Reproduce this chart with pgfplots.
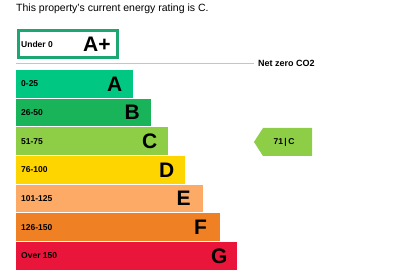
\documentclass[border=0pt]{standalone}
\usepackage{pgfplots}
\pgfplotsset{compat=1.18}
\usepackage{fontspec}
\setmainfont{Liberation Sans}
\definecolor{epcA}{HTML}{00C781}
\definecolor{epcB}{HTML}{19B459}
\definecolor{epcC}{HTML}{8DCE46}
\definecolor{epcD}{HTML}{FFD500}
\definecolor{epcE}{HTML}{FCAA65}
\definecolor{epcF}{HTML}{EF8023}
\definecolor{epcG}{HTML}{E9153B}
\definecolor{epcAplus}{HTML}{1BA672}
\definecolor{netzero}{HTML}{A9D0DA}
\tikzset{rng/.style={anchor=west,inner sep=0,font=\fontsize{8.5}{10}\selectfont\bfseries},
  big/.style={anchor=west,inner sep=0,font=\fontsize{21}{24}\selectfont\bfseries}}
\begin{document}
\begin{tikzpicture}
\begin{axis}[width=400pt,height=280pt,scale only axis,
  xmin=-16,xmax=384,ymin=0,ymax=280,y dir=reverse,
  axis lines=none,clip=false]
% picture frame (bounding box only)
\path (axis cs:-16,0) rectangle (axis cs:384,280);
% rating bars (length = right edge - left edge, in px)
\addplot[xbar,bar shift=0pt,bar width=27.7,draw=none,fill=epcA] coordinates {(117,83.85)};
\addplot[xbar,bar shift=0pt,bar width=27.7,draw=none,fill=epcB] coordinates {(134.5,112.55)};
\addplot[xbar,bar shift=0pt,bar width=27.7,draw=none,fill=epcC] coordinates {(152,141.25)};
\addplot[xbar,bar shift=0pt,bar width=27.7,draw=none,fill=epcD] coordinates {(169,169.95)};
\addplot[xbar,bar shift=0pt,bar width=27.7,draw=none,fill=epcE] coordinates {(186.5,198.65)};
\addplot[xbar,bar shift=0pt,bar width=27.7,draw=none,fill=epcF] coordinates {(204,227.35)};
\addplot[xbar,bar shift=0pt,bar width=27.7,draw=none,fill=epcG] coordinates {(221,256.05)};
% A+ box
\addplot[draw=epcAplus,line width=3pt,fill=white,mark=none] coordinates {(2.5,30.5) (101.5,30.5) (101.5,57.5) (2.5,57.5)} --cycle;
% net zero line
\addplot[draw=netzero,line width=1.8pt,mark=none] coordinates {(0,63.5) (238,63.5)};
% current rating arrow
\addplot[fill=epcC,draw=none,mark=none] coordinates {(238,142) (247,128) (296,128) (296,156) (247,156)} --cycle;
% texts
\node[anchor=base west,inner sep=0,font=\fontsize{10.5}{12}\selectfont] at (axis cs:0,12) {This property’s current energy rating is C.};
\node[rng] at (axis cs:5,44) {Under 0};
\node[big] at (axis cs:67,44) {A+};
\node[anchor=west,inner sep=0,font=\fontsize{9}{10}\selectfont\bfseries] at (axis cs:242,63.5) {Net zero CO2};
\node[anchor=center,inner sep=0,font=\fontsize{8.5}{10}\selectfont\bfseries] at (axis cs:268,142) {71\,|\,C};
\node[rng] at (axis cs:5,83.85) {0-25};
\node[rng] at (axis cs:5,112.55) {26-50};
\node[rng] at (axis cs:5,141.25) {51-75};
\node[rng] at (axis cs:5,169.95) {76-100};
\node[rng] at (axis cs:5,198.65) {101-125};
\node[rng] at (axis cs:5,227.35) {126-150};
\node[rng] at (axis cs:5,256.05) {Over 150};
\node[big] at (axis cs:91,83.85) {A};
\node[big] at (axis cs:108.5,112.55) {B};
\node[big] at (axis cs:126,141.25) {C};
\node[big] at (axis cs:143,169.95) {D};
\node[big] at (axis cs:160.5,198.65) {E};
\node[big] at (axis cs:178,227.35) {F};
\node[big] at (axis cs:195,256.05) {G};
\end{axis}
\end{tikzpicture}
\end{document}
